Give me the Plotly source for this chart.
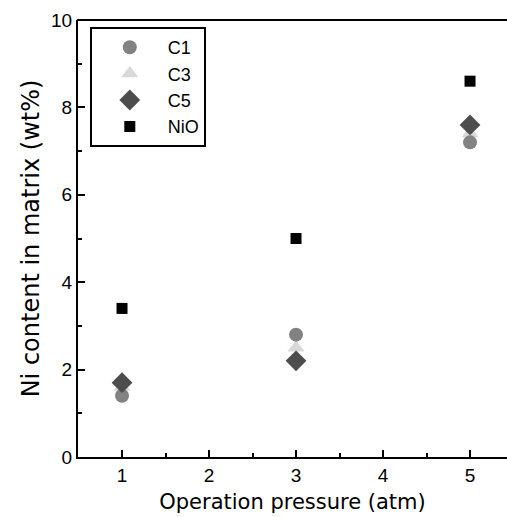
import plotly.graph_objects as go

pressure = [1, 3, 5]
c1 = [1.4, 2.8, 7.2]
c3 = [1.6, 2.5, 7.4]
c5 = [1.7, 2.2, 7.6]
nio = [3.4, 5.0, 8.6]

FONT = "Liberation Sans, Arial, sans-serif"
TITLE_FONT = "DejaVu Sans, Liberation Sans, sans-serif"

fig = go.Figure()
# draw order: C3 first so others sit on top; legend order via legendrank
fig.add_trace(go.Scatter(x=pressure, y=c3, mode="markers", name="C3", legendrank=2,
                         marker=dict(symbol="triangle-up", size=15, color="#d9d9d9")))
fig.add_trace(go.Scatter(x=pressure, y=c1, mode="markers", name="C1", legendrank=1,
                         marker=dict(symbol="circle", size=14, color="#828282")))
fig.add_trace(go.Scatter(x=pressure, y=c5, mode="markers", name="C5", legendrank=3,
                         marker=dict(symbol="diamond", size=16, color="#4d4d4d")))
fig.add_trace(go.Scatter(x=pressure, y=nio, mode="markers", name="NiO", legendrank=4,
                         marker=dict(symbol="square", size=11, color="#000000")))

fig.update_layout(
    width=507, height=517,
    margin=dict(l=78, r=0, t=20, b=60),
    paper_bgcolor="white", plot_bgcolor="white",
    font=dict(family=FONT, size=18, color="black"),
    showlegend=True,
    legend=dict(x=0.0275, y=0.984, xanchor="left", yanchor="top",
                bordercolor="black", borderwidth=2, bgcolor="white",
                font=dict(size=18), itemwidth=66, tracegroupgap=0,
                traceorder="normal"),
    xaxis=dict(range=[0.494, 5.425], tickvals=[1, 2, 3, 4, 5], showgrid=False, zeroline=False,
               automargin=False,
               showline=True, linecolor="black", linewidth=2, mirror=False,
               ticks="inside", ticklen=7, tickwidth=2, tickcolor="black",
               minor=dict(ticks="inside", ticklen=4, tickwidth=2, tickcolor="black",
                          tickvals=[1.5, 2.5, 3.5, 4.5]),
               title=dict(text="Operation pressure (atm)",
                          font=dict(family=TITLE_FONT, size=21), standoff=10),
               tickfont=dict(size=19)),
    yaxis=dict(range=[0, 10], tickvals=[0, 2, 4, 6, 8, 10], showgrid=False, zeroline=False,
               automargin=False,
               showline=True, linecolor="black", linewidth=2, mirror=False,
               ticks="inside", ticklen=7, tickwidth=2, tickcolor="black",
               minor=dict(ticks="inside", ticklen=4, tickwidth=2, tickcolor="black",
                          tickvals=[1, 3, 5, 7, 9]),
               title=dict(text="Ni content in matrix (wt%)",
                          font=dict(family=TITLE_FONT, size=24), standoff=5),
               tickfont=dict(size=19)),
)

# top frame line only (the reference shows no right-hand frame)
fig.add_shape(type="line", xref="paper", yref="paper", x0=-0.002, x1=1.02, y0=1, y1=1,
              line=dict(color="black", width=2), layer="above")

fig.write_html("out.html", config={"displayModeBar": False},
               post_script="document.documentElement.style.overflow='hidden';"
                           "document.body.style.margin='0';document.body.style.overflow='hidden';")
